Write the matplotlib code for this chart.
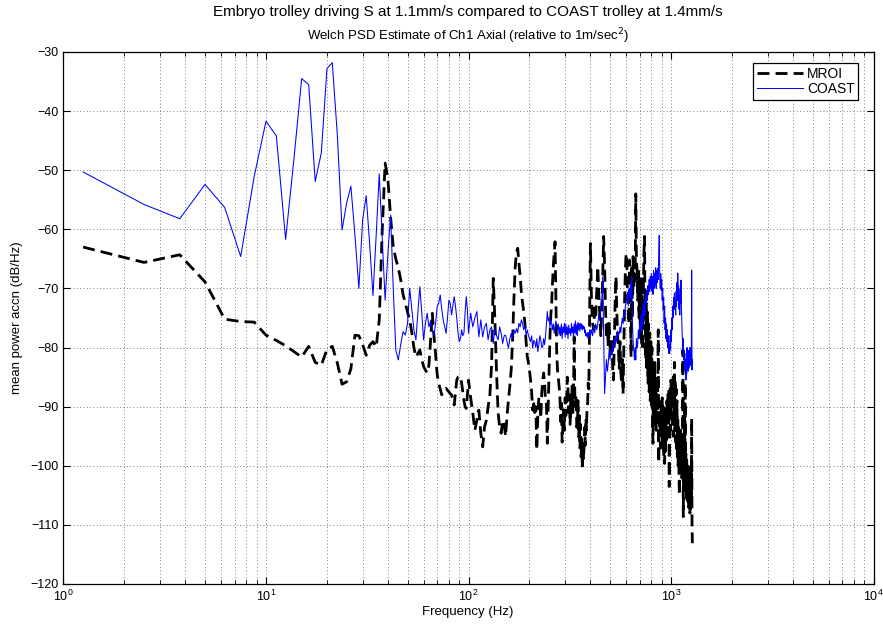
import numpy as np
import matplotlib
matplotlib.use('Agg')
import matplotlib.pyplot as plt
from matplotlib.ticker import LogLocator, NullFormatter, MultipleLocator

plt.rcParams['font.family'] = ['Liberation Sans', 'DejaVu Sans']

# ---- data (dB/Hz) ----
# MROI, 1.25 Hz bins from 1.25 to 100 Hz
mroi_lo = [-63.0, -65.6, -64.3, -68.9, -75.2, -75.6, -75.7, -77.9,
           -78.8, -79.7, -80.7, -81.6, -79.8, -82.5, -83.0, -80.3,
           -79.8, -82.6, -86.2, -85.8, -83.6, -77.9, -78.0, -79.5,
           -81.3, -79.6, -79.0, -79.9, -75.3, -60.1, -48.8, -51.5,
           -58.0, -63.0, -65.0, -66.5, -68.5, -71.0, -72.5, -74.0,
           -75.3, -77.5, -80.0, -81.6, -81.0, -80.4, -82.0, -83.2,
           -83.8, -84.3, -83.0, -78.7, -74.2, -78.0, -81.0, -84.5,
           -86.1, -87.0, -88.0, -87.5, -87.0, -86.9, -87.2, -87.5,
           -87.8, -88.0, -89.0, -89.7, -87.5, -85.5, -85.0, -85.0,
           -84.9, -86.0, -87.5, -89.0, -90.0, -90.3, -88.0, -85.5]
# MROI, 2.5 Hz steps from 102.5 to 400 Hz
mroi_mid = [-88.5, -91.1, -94.0, -92.3, -90.6, -94.5, -96.8, -93.4, -92.3, -90.0,
            -88.0, -83.0, -68.3, -75.3, -84.0, -91.0, -93.5, -94.5, -92.3, -93.0,
            -95.0, -91.5, -88.8, -86.5, -83.8, -79.0, -72.0, -66.5, -63.8, -63.2,
            -65.8, -68.0, -70.8, -72.5, -74.0, -76.0, -79.0, -81.5, -82.5, -83.8,
            -85.5, -87.5, -90.6, -89.5, -91.0, -90.0, -97.3, -91.5, -88.5, -89.4,
            -92.0, -87.7, -85.5, -84.3, -86.0, -88.9, -89.5, -96.2, -90.0, -84.0,
            -78.0, -74.5, -72.5, -69.0, -66.0, -64.0, -62.1, -72.0, -80.5, -83.8,
            -85.0, -86.6, -88.0, -92.5, -89.4, -96.0, -93.4, -90.5, -94.0, -88.5,
            -91.5, -89.4, -85.0, -87.2, -91.0, -88.0, -93.0, -88.3, -90.5, -86.5,
            -91.0, -87.0, -78.2, -87.8, -90.0, -88.0, -93.5, -92.8, -89.0, -95.1,
            -91.5, -97.0, -93.0, -98.5, -95.5, -100.7, -97.0, -99.0, -96.2, -93.5,
            -96.5, -92.0, -94.0, -90.0, -89.4, -86.0, -87.0, -80.0, -70.0, -62.4]
# MROI, 5 Hz steps from 405 to 1275 Hz
mroi_hi = [-72.0, -75.9, -77.0, -73.1, -74.5, -70.3, -66.3, -71.0, -74.8, -78.0,
           -73.6, -68.0, -61.2, -66.0, -73.6, -78.2, -76.0, -79.9, -75.9, -80.0,
           -81.6, -78.5, -83.2, -85.5, -79.0, -72.0, -68.0, -74.0, -78.0, -80.4,
           -83.5, -79.0, -84.0, -86.0, -82.0, -87.8, -80.0, -72.0, -67.0, -64.1,
           -65.0, -72.0, -70.3, -76.0, -65.2, -72.0, -81.6, -66.0, -75.0, -64.6,
           -70.0, -65.5, -68.6, -54.0, -65.2, -67.0, -72.0, -66.5, -75.0, -68.0,
           -78.0, -70.0, -79.5, -68.0, -80.5, -70.5, -64.0, -61.2, -75.0, -82.0,
           -72.5, -84.0, -74.0, -86.0, -76.0, -87.5, -77.5, -89.0, -79.0, -90.0,
           -80.0, -93.0, -96.2, -84.0, -91.0, -82.5, -93.0, -85.0, -94.0, -86.0,
           -92.5, -88.0, -77.0, -99.5, -89.0, -94.0, -91.7, -97.0, -89.5, -95.5,
           -88.5, -97.0, -90.0, -98.5, -91.0, -99.6, -92.0, -97.5, -90.0, -96.0,
           -89.0, -92.8, -88.0, -95.0, -87.0, -103.5, -90.6, -86.5, -94.0, -85.5,
           -92.0, -87.2, -93.5, -86.0, -95.0, -84.9, -92.5, -82.5, -94.0, -85.5,
           -96.0, -87.0, -97.5, -89.0, -98.5, -91.7, -100.0, -93.0, -101.5, -105.0,
           -95.0, -99.0, -94.0, -100.7, -95.5, -102.0, -96.0, -101.0, -80.4, -108.6,
           -97.0, -102.5, -90.6, -103.0, -86.0, -104.0, -98.0, -105.5, -99.0, -103.0,
           -100.0, -106.0, -101.0, -107.0, -100.5, -105.0, -102.0, -108.0, -101.5, -107.5,
           -100.0, -106.0, -92.0, -109.7, -113.1]

# COAST, same bins
coast_lo = [-50.3, -55.8, -58.2, -52.4, -56.3, -64.6, -51.0, -41.7,
            -44.2, -61.7, -48.0, -34.5, -35.5, -51.9, -47.1, -32.8,
            -31.8, -44.0, -60.1, -55.6, -52.7, -61.0, -70.0, -58.4,
            -54.3, -62.5, -71.2, -61.0, -50.6, -61.5, -72.0, -64.0,
            -57.6, -70.0, -80.4, -82.1, -79.5, -77.3, -77.9, -75.9,
            -70.0, -73.6, -77.0, -78.7, -74.0, -69.7, -74.0, -78.7,
            -76.0, -74.2, -76.5, -75.5, -77.0, -77.9, -76.0, -73.1,
            -72.5, -71.1, -73.5, -75.3, -76.5, -77.6, -75.0, -72.0,
            -72.5, -74.5, -73.0, -71.4, -73.0, -75.0, -77.5, -79.0,
            -78.5, -77.0, -78.0, -77.5, -74.0, -71.4, -73.5, -77.6]
coast_mid = [-74.2, -76.5, -75.0, -73.9, -78.2, -75.3, -78.2, -76.5, -75.9, -78.7,
             -77.0, -76.5, -79.3, -76.8, -78.0, -78.7, -76.5, -77.6, -79.3, -78.0,
             -77.9, -79.0, -80.1, -78.5, -77.6, -78.4, -77.0, -77.6, -76.8, -77.5,
             -75.9, -76.5, -75.3, -76.0, -77.0, -76.2, -77.9, -77.0, -77.9, -78.5,
             -79.0, -78.0, -80.1, -78.8, -79.0, -80.0, -78.5, -80.7, -79.5, -78.0,
             -78.7, -80.0, -79.9, -78.5, -79.5, -78.2, -76.0, -73.9, -75.5, -75.0,
             -76.5, -75.3, -76.0, -77.0, -76.0, -77.6, -76.5, -75.5, -76.2, -77.0,
             -76.0, -77.9, -76.5, -78.0, -76.0, -78.5, -76.5, -77.5, -75.9, -78.2,
             -76.0, -77.8, -76.5, -78.5, -76.2, -77.6, -76.8, -78.0, -75.9, -77.5,
             -76.5, -78.2, -76.0, -77.5, -75.5, -77.8, -76.2, -78.0, -75.8, -77.0,
             -76.0, -77.2, -75.9, -76.8, -76.0, -77.0, -76.3, -76.8, -76.5, -77.5,
             -77.0, -78.0, -77.6, -78.2, -77.5, -78.5, -77.5, -78.2, -77.0, -78.0]
coast_hi = [-77.0, -78.0, -76.5, -77.5, -76.0, -77.0, -75.9, -74.5, -75.5, -73.1,
            -72.0, -68.0, -78.0, -87.8, -84.9, -82.0, -84.0, -82.6, -80.4, -82.0,
            -80.5, -81.0, -79.3, -80.5, -78.5, -79.5, -78.0, -79.0, -77.2, -78.0,
            -77.6, -76.5, -77.5, -76.0, -75.0, -76.0, -74.0, -74.8, -73.0, -72.5,
            -71.5, -70.8, -73.0, -70.0, -71.5, -69.1, -72.0, -68.0, -75.9, -79.0,
            -80.4, -82.1, -80.0, -82.1, -78.5, -80.0, -79.3, -77.0, -78.5, -75.9,
            -77.0, -74.5, -77.5, -73.6, -76.5, -72.5, -75.0, -72.0, -74.5, -71.0,
            -72.5, -70.3, -72.0, -69.5, -71.0, -68.5, -70.5, -68.0, -70.0, -67.5,
            -70.5, -68.0, -71.0, -67.0, -70.0, -67.4, -69.5, -66.5, -70.0, -67.0,
            -69.0, -66.6, -68.5, -64.0, -61.0, -68.0, -70.0, -67.5, -70.3, -68.5,
            -72.0, -70.0, -73.6, -71.5, -75.9, -73.0, -77.0, -75.0, -78.5, -76.0,
            -79.0, -77.0, -80.0, -78.0, -81.0, -79.5, -81.0, -78.0, -80.4, -77.0,
            -79.0, -75.0, -77.0, -73.0, -75.0, -71.5, -73.5, -70.8, -73.5, -72.0,
            -74.5, -70.5, -73.0, -69.0, -72.0, -67.4, -71.0, -69.5, -73.5, -71.0,
            -74.5, -70.0, -72.5, -68.6, -73.0, -75.5, -77.5, -79.0, -80.4, -78.5,
            -82.0, -80.5, -83.2, -81.0, -84.0, -82.0, -85.5, -82.5, -84.5, -80.0,
            -83.2, -81.0, -84.0, -80.5, -83.5, -81.5, -83.2, -80.0, -82.5, -80.5,
            -83.0, -81.0, -66.9, -83.8, -82.0]

# frequency bins (Hz)
f_lo = 1.25 * np.arange(1, len(mroi_lo) + 1)
f_mid = 100 + 2.5 * np.arange(1, len(mroi_mid) + 1)
f_hi = 400 + 5.0 * np.arange(1, len(mroi_hi) + 1)
freq = np.concatenate([f_lo, f_mid, f_hi])
mroi = np.concatenate([mroi_lo, mroi_mid, mroi_hi])
coast = np.concatenate([coast_lo, coast_mid, coast_hi])

fig = plt.figure(figsize=(8.83, 6.28), dpi=100)
ax = fig.add_axes([63.5 / 883, 44 / 628, 810 / 883, 532 / 628])

ax.semilogx(freq, mroi, color='k', lw=2.0, ls=(0, (4.3, 2.2)), label='MROI')
ax.semilogx(freq, coast, color=(0, 0, 1), lw=0.75, label='COAST')

ax.set_xlim(1, 1e4)
ax.set_ylim(-120, -30)
ax.yaxis.set_major_locator(MultipleLocator(10))
ax.xaxis.set_major_locator(LogLocator(base=10, numticks=10))
ax.xaxis.set_minor_locator(LogLocator(base=10, subs=np.arange(2, 10), numticks=20))
ax.xaxis.set_minor_formatter(NullFormatter())

grid_kw = dict(color='#555555', ls=(0, (1, 3)), lw=0.6)
ax.grid(True, which='major', axis='both', **grid_kw)
ax.grid(True, which='minor', axis='x', **grid_kw)

ax.tick_params(which='both', direction='in', top=True, right=True, labelsize=9)
ax.tick_params(which='major', length=5)
ax.tick_params(which='minor', length=3)
for s in ax.spines.values():
    s.set_linewidth(0.9)

leg = ax.legend(loc='upper right', bbox_to_anchor=(0.981, 0.979), borderaxespad=0,
                fancybox=False, edgecolor='k', framealpha=1, fontsize=10,
                handlelength=3.3, borderpad=0.25, labelspacing=0.1, handletextpad=0.3)
leg.get_frame().set_linewidth(0.9)

fig.text(468 / 883, 1 - 12 / 628, 'Embryo trolley driving S at 1.1mm/s compared to COAST trolley at 1.4mm/s',
         ha='center', va='center', fontsize=11)
fig.text(468 / 883, 1 - 36 / 628, 'Welch PSD Estimate of Ch1 Axial (relative to 1m/sec$^2$)',
         ha='center', va='center', fontsize=9.5)
fig.text(17 / 883, 1 - 318 / 628, 'mean power accn (dB/Hz)', rotation=90,
         ha='center', va='center', fontsize=9.5)
fig.text(468 / 883, 1 - 612 / 628, 'Frequency (Hz)', ha='center', va='center', fontsize=9.5)

fig.savefig('out.png', dpi=100)
